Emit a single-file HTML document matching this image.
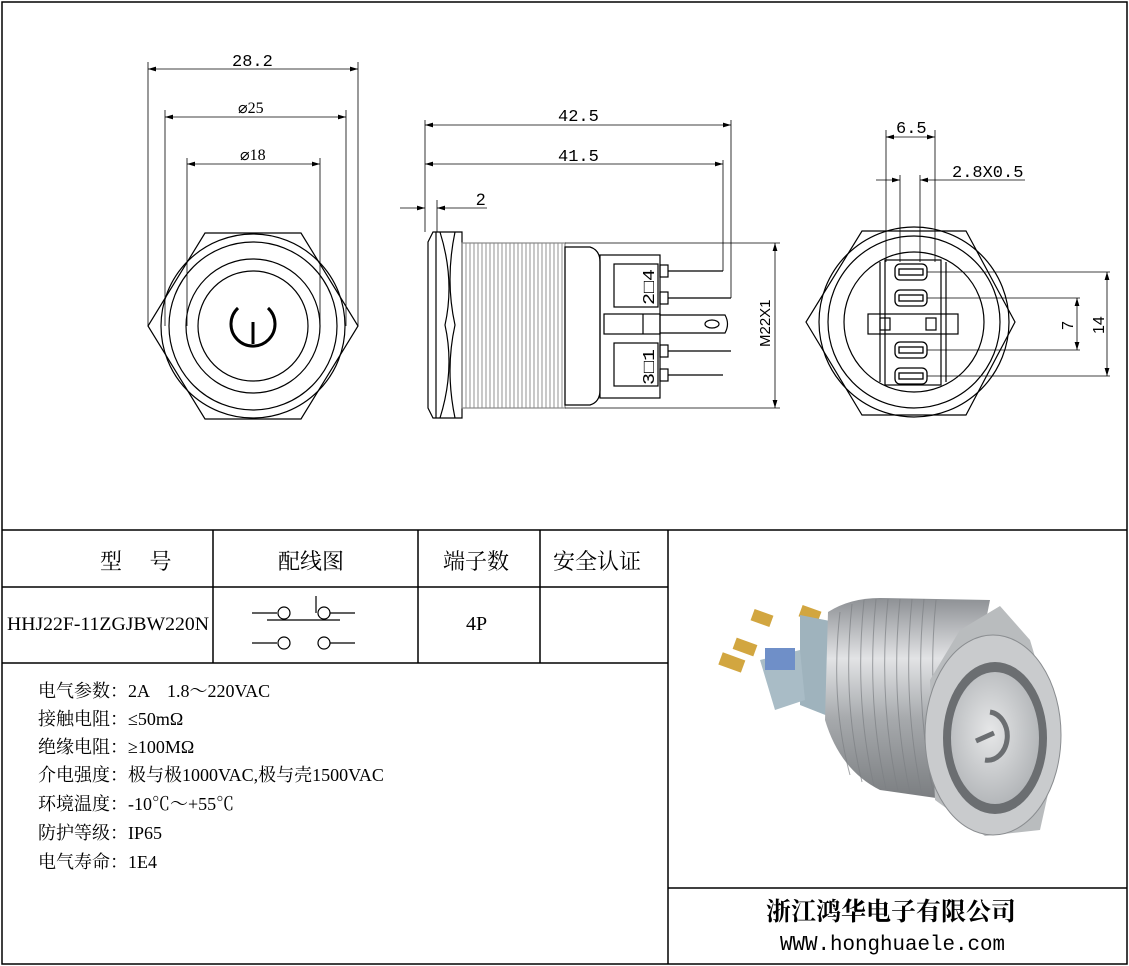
<!DOCTYPE html>
<html><head><meta charset="utf-8"><style>
html,body{margin:0;padding:0;background:#fff}
svg{display:block}
text{font-family:"Liberation Serif","Noto Serif CJK SC","Noto Sans CJK SC",serif;fill:#000}
.mono{font-family:"Liberation Mono",monospace}
.sans{font-family:"Liberation Sans",sans-serif}
</style></head><body>
<svg width="1129" height="966" viewBox="0 0 1129 966" xmlns="http://www.w3.org/2000/svg">
<defs>
<marker id="a" viewBox="0 0 10 6" refX="10" refY="3" markerWidth="10" markerHeight="6" orient="auto-start-reverse"><path d="M0,0L10,3L0,6z" fill="#000"/></marker>
<linearGradient id="met" x1="0" y1="0" x2="0" y2="1"><stop offset="0" stop-color="#8d9094"/><stop offset="0.3" stop-color="#e2e3e5"/><stop offset="0.6" stop-color="#a6a9ac"/><stop offset="1" stop-color="#7a7d80"/></linearGradient>
<radialGradient id="face" cx="0.45" cy="0.45" r="0.6"><stop offset="0" stop-color="#e6e7e8"/><stop offset="1" stop-color="#b0b3b6"/></radialGradient>
<pattern id="sth" width="4" height="10" patternUnits="userSpaceOnUse"><line x1="2" y1="0" x2="2" y2="10" stroke="#777" stroke-width="0.8"/></pattern>
</defs>
<g fill="none" stroke="#000" stroke-width="1.5">
<rect x="2" y="2" width="1125" height="962"/>
<line x1="2" y1="530" x2="1127" y2="530"/>
<line x1="2" y1="587" x2="668" y2="587"/>
<line x1="2" y1="663" x2="668" y2="663"/>
<line x1="213" y1="530" x2="213" y2="663"/>
<line x1="418" y1="530" x2="418" y2="663"/>
<line x1="540" y1="530" x2="540" y2="663"/>
<line x1="668" y1="530" x2="668" y2="964"/>
<line x1="668" y1="888" x2="1127" y2="888"/>
</g>
<!-- front view -->
<g fill="none" stroke="#000" stroke-width="1.2">
<polygon points="205,233 301,233 358,326 301,419 205,419 148,326"/>
<circle cx="253" cy="326" r="92"/>
<circle cx="253" cy="326" r="84"/>
<circle cx="253" cy="326" r="67"/>
<circle cx="253" cy="326" r="55"/>
<path d="M238,308 A22,22 0 1 0 268,308" stroke-width="3"/>
<line x1="253" y1="322" x2="253" y2="344" stroke-width="3"/>
<g stroke-width="0.8">
<line x1="148" y1="62" x2="148" y2="326"/><line x1="358" y1="62" x2="358" y2="326"/>
<line x1="165" y1="110" x2="165" y2="326"/><line x1="346" y1="110" x2="346" y2="326"/>
<line x1="187" y1="158" x2="187" y2="326"/><line x1="320" y1="158" x2="320" y2="326"/>
<line x1="148" y1="69" x2="358" y2="69" marker-start="url(#a)" marker-end="url(#a)"/>
<line x1="165" y1="117" x2="346" y2="117" marker-start="url(#a)" marker-end="url(#a)"/>
<line x1="187" y1="164" x2="320" y2="164" marker-start="url(#a)" marker-end="url(#a)"/>
</g></g>
<text x="232" y="66" font-size="17" class="mono">28.2</text>
<text x="238" y="113" font-size="16">⌀25</text>
<text x="240" y="160" font-size="16">⌀18</text>
<!-- side view -->
<g fill="none" stroke="#000" stroke-width="1.2">
<path d="M433,232 L462,232 L462,418 L433,418 L428,408 L428,242 Z" fill="#fff"/>
<line x1="436" y1="232" x2="436" y2="418"/>
<path d="M440,232 Q455,280 445,325 Q455,370 440,418" />
<path d="M455,232 Q445,280 455,325 Q445,370 455,418"/>
<rect x="462" y="243" width="103" height="165" fill="url(#sth)" stroke="#888"/>
<path d="M565,247 L590,247 Q600,250 600,262 L600,390 Q600,402 590,405 L565,405 Z"/>
<rect x="600" y="255" width="60" height="143"/>
<rect x="614" y="264" width="44" height="43"/>
<rect x="614" y="343" width="44" height="43"/>
<rect x="604" y="314" width="56" height="20"/>
<line x1="643" y1="314" x2="643" y2="334"/>
<path d="M660,315 L725,315 Q730,324 725,333 L660,333"/>
<ellipse cx="712" cy="324" rx="7" ry="4"/>
<rect x="660" y="265" width="8" height="12"/><rect x="660" y="292" width="8" height="12"/>
<rect x="660" y="345" width="8" height="12"/><rect x="660" y="369" width="8" height="12"/>
<line x1="668" y1="271" x2="723" y2="271"/><line x1="668" y1="298" x2="731" y2="298"/>
<line x1="668" y1="351" x2="731" y2="351"/><line x1="668" y1="375" x2="723" y2="375"/>
<g stroke-width="0.8">
<line x1="425" y1="120" x2="425" y2="232"/><line x1="731" y1="120" x2="731" y2="298"/>
<line x1="723" y1="160" x2="723" y2="271"/>
<line x1="437" y1="200" x2="437" y2="232"/>
<line x1="425" y1="125" x2="731" y2="125" marker-start="url(#a)" marker-end="url(#a)"/>
<line x1="425" y1="164" x2="723" y2="164" marker-start="url(#a)" marker-end="url(#a)"/>
<line x1="400" y1="208" x2="425" y2="208" marker-end="url(#a)"/>
<line x1="487" y1="208" x2="437" y2="208" marker-end="url(#a)"/>
<line x1="565" y1="243" x2="780" y2="243"/><line x1="565" y1="408" x2="780" y2="408"/>
<line x1="775" y1="243" x2="775" y2="408" marker-start="url(#a)" marker-end="url(#a)"/>
</g></g>
<text x="558" y="121" font-size="17" class="mono">42.5</text>
<text x="558" y="161" font-size="17" class="mono">41.5</text>
<text x="476" y="205" font-size="17" class="sans">2</text>
<text font-size="17" class="mono" transform="translate(654,305) rotate(-90)" textLength="36" lengthAdjust="spacingAndGlyphs">2□4</text>
<text font-size="17" class="mono" transform="translate(654,385) rotate(-90)" textLength="36" lengthAdjust="spacingAndGlyphs">3□1</text>
<text class="sans" font-size="15" transform="translate(770,347) rotate(-90)">M22X1</text>
<!-- rear view -->
<g fill="none" stroke="#000" stroke-width="1.2">
<polygon points="862,231 966,231 1015,322 966,415 862,415 806,322"/>
<circle cx="914" cy="322" r="95"/>
<circle cx="914" cy="322" r="86"/>
<circle cx="914" cy="322" r="70"/>
<line x1="880" y1="262" x2="880" y2="382"/><line x1="946" y1="262" x2="946" y2="382"/>
<rect x="885" y="260" width="56" height="125"/>
<rect x="868" y="314" width="90" height="20"/>
<rect x="880" y="318" width="10" height="12"/><rect x="926" y="318" width="10" height="12"/>
<g stroke-width="1.3">
<rect x="895" y="264" width="32" height="16" rx="5"/><rect x="899" y="269" width="24" height="6"/>
<rect x="895" y="290" width="32" height="16" rx="5"/><rect x="899" y="295" width="24" height="6"/>
<rect x="895" y="342" width="32" height="16" rx="5"/><rect x="899" y="347" width="24" height="6"/>
<rect x="895" y="368" width="32" height="16" rx="5"/><rect x="899" y="373" width="24" height="6"/>
</g>
<g stroke-width="0.8">
<line x1="886" y1="130" x2="886" y2="262"/><line x1="935" y1="130" x2="935" y2="262"/>
<line x1="900" y1="175" x2="900" y2="262"/><line x1="920" y1="175" x2="920" y2="262"/>
<line x1="886" y1="137" x2="935" y2="137" marker-start="url(#a)" marker-end="url(#a)"/>
<line x1="876" y1="180" x2="900" y2="180" marker-end="url(#a)"/>
<line x1="1025" y1="180" x2="920" y2="180" marker-end="url(#a)"/>
<line x1="927" y1="272" x2="1110" y2="272"/><line x1="927" y1="376" x2="1110" y2="376"/>
<line x1="927" y1="298" x2="1080" y2="298"/><line x1="927" y1="350" x2="1080" y2="350"/>
<line x1="1107" y1="272" x2="1107" y2="376" marker-start="url(#a)" marker-end="url(#a)"/>
<line x1="1077" y1="298" x2="1077" y2="350" marker-start="url(#a)" marker-end="url(#a)"/>
</g></g>
<text x="896" y="133" font-size="17" class="mono">6.5</text>
<text x="952" y="177" font-size="17" class="mono">2.8X0.5</text>
<text class="sans" font-size="16" transform="translate(1073,330) rotate(-90)">7</text>
<text class="sans" font-size="16" transform="translate(1104,334) rotate(-90)">14</text>
<!-- table -->
<g font-size="22">
<text x="100" y="569">型 　号</text>
<text x="278" y="569">配线图</text>
<text x="443" y="569">端子数</text>
<text x="553" y="569">安全认证</text>
</g>
<text x="7" y="630" font-size="19" textLength="202" lengthAdjust="spacingAndGlyphs">HHJ22F-11ZGJBW220N</text>
<text x="466" y="630" font-size="20">4P</text>
<g fill="none" stroke="#000" stroke-width="1.2">
<line x1="252" y1="613" x2="277" y2="613"/><circle cx="284" cy="613" r="6"/>
<line x1="316" y1="596" x2="316" y2="613"/><circle cx="324" cy="613" r="6"/><line x1="330" y1="613" x2="355" y2="613"/>
<line x1="267" y1="620" x2="340" y2="620"/>
<line x1="252" y1="643" x2="277" y2="643"/><circle cx="284" cy="643" r="6"/>
<circle cx="324" cy="643" r="6"/><line x1="330" y1="643" x2="355" y2="643"/>
</g>
<g font-size="18">
<text x="38" y="697">电气参数：2A　1.8～220VAC</text>
<text x="38" y="725">接触电阻：≤50mΩ</text>
<text x="38" y="753">绝缘电阻：≥100MΩ</text>
<text x="38" y="781">介电强度：极与极1000VAC,极与壳1500VAC</text>
<text x="38" y="810">环境温度：-10℃～+55℃</text>
<text x="38" y="839">防护等级：IP65</text>
<text x="38" y="868">电气寿命：1E4</text>
</g>
<text x="766" y="920" font-size="25" font-weight="bold">浙江鸿华电子有限公司</text>
<text x="780" y="950" font-size="21" class="mono" textLength="225" lengthAdjust="spacingAndGlyphs">WWW.honghuaele.com</text>
<!-- photo -->
<g>
<rect x="752" y="612" width="20" height="12" fill="#d2a640" transform="rotate(20 762 618)"/>
<rect x="800" y="608" width="20" height="12" fill="#d2a640" transform="rotate(20 810 614)"/>
<rect x="734" y="641" width="22" height="12" fill="#d2a640" transform="rotate(20 745 647)"/>
<rect x="720" y="656" width="24" height="13" fill="#d2a640" transform="rotate(20 732 662)"/>
<path d="M800,615 L835,622 L838,720 L800,705 Z" fill="#9fb3bd"/>
<path d="M760,660 L800,650 L805,700 L775,710 Z" fill="#a9bcc6"/>
<rect x="765" y="648" width="30" height="22" fill="#6f8fc8"/>
<path d="M828,612 Q850,598 880,598 L990,600 L950,800 L880,790 Q840,770 825,720 Z" fill="url(#met)"/>
<g stroke="#7d8084" stroke-width="1" fill="none" opacity="0.7">
<path d="M840,612 Q830,700 850,775"/><path d="M852,604 Q842,700 862,782"/><path d="M864,600 Q854,700 874,786"/>
<path d="M876,599 Q866,700 886,789"/><path d="M888,599 Q878,700 898,791"/><path d="M900,599 Q890,700 910,793"/>
<path d="M912,599 Q902,700 922,795"/><path d="M924,599 Q914,700 934,797"/><path d="M936,600 Q926,700 946,799"/>
</g>
<path d="M1000,606 L1030,640 L1060,740 L1040,830 L985,836 L935,800 L930,680 L960,630 Z" fill="#b9bcbe"/>
<ellipse cx="993" cy="735" rx="68" ry="100" fill="#c9cbcd" stroke="#8a8d90"/>
<ellipse cx="995" cy="738" rx="52" ry="76" fill="#6b6e71"/>
<ellipse cx="995" cy="738" rx="44" ry="66" fill="url(#face)"/>
<path d="M990,712 A18,22 0 1 1 985,760" fill="none" stroke="#6b6e71" stroke-width="5"/>
<line x1="976" y1="741" x2="994" y2="733" stroke="#6b6e71" stroke-width="5"/>
</g>
</svg>
</body></html>
